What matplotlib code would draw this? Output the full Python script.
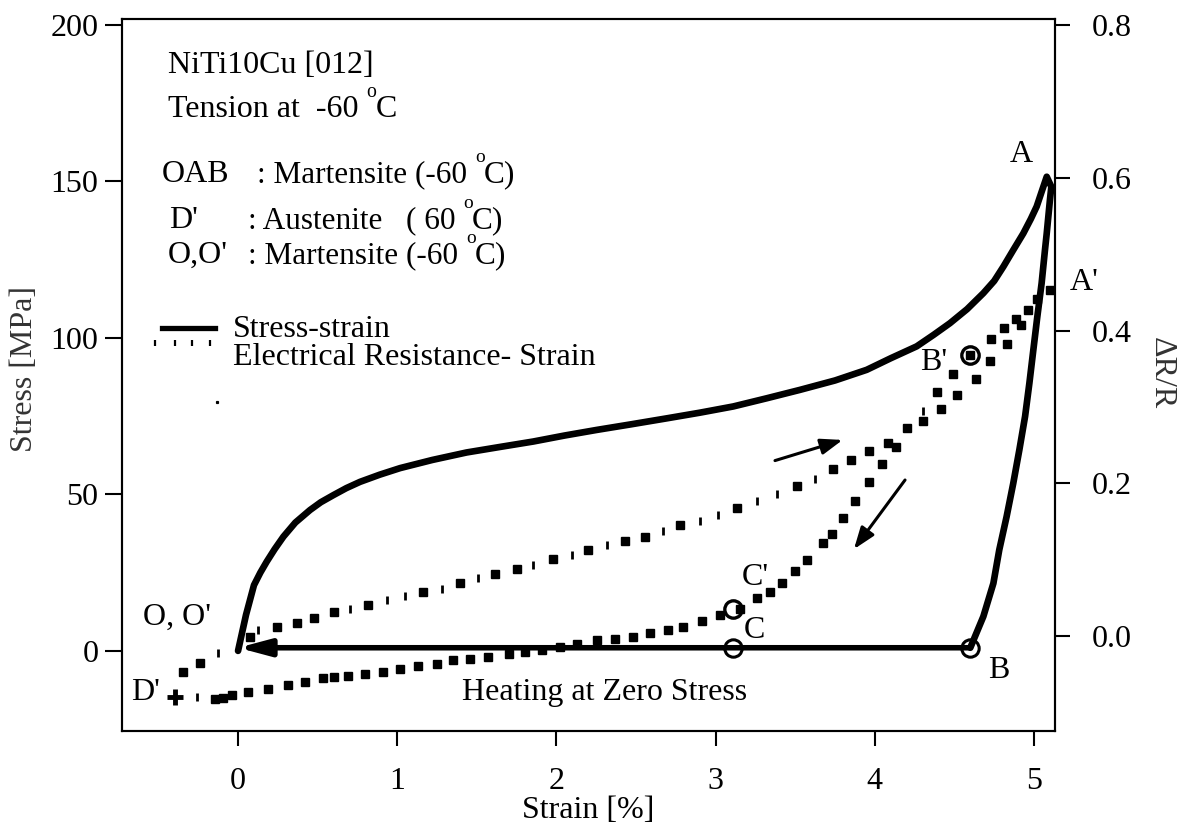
import matplotlib
matplotlib.use("Agg")
import matplotlib.pyplot as plt
from matplotlib.lines import Line2D

plt.rcParams['font.family'] = ['Liberation Serif', 'DejaVu Serif']
plt.rcParams['mathtext.fontset'] = 'custom'
plt.rcParams['mathtext.rm'] = 'Liberation Serif'
plt.rcParams['mathtext.it'] = 'Liberation Serif:italic'

# ---------------- data ----------------
# stress-strain: loading O -> A, then unloading A -> B
load_strain = [0.0, 0.05, 0.1, 0.14, 0.18, 0.23, 0.285, 0.36, 0.452, 0.52, 0.6, 0.68,
               0.766, 0.89, 1.018, 1.22, 1.436, 1.65, 1.855, 2.05, 2.253, 2.47, 2.693,
               2.9, 3.111, 3.32, 3.53, 3.75, 3.949, 4.1, 4.263, 4.37, 4.472, 4.58, 4.682,
               4.75, 4.808, 4.87, 4.933, 4.98, 5.017, 5.05, 5.08]
load_stress = [0.0, 11.5, 21.0, 25.0, 28.5, 32.5, 36.5, 41.0, 45.0, 47.5, 49.8, 52.0,
               54.0, 56.3, 58.4, 61.0, 63.4, 65.2, 66.9, 68.8, 70.6, 72.4, 74.3,
               76.1, 78.1, 80.7, 83.4, 86.4, 89.8, 93.5, 97.3, 101.0, 104.7, 109.2, 114.3,
               118.2, 122.8, 128.1, 133.4, 138.0, 142.0, 147.0, 151.5]
unload_strain = [5.109, 5.10, 5.08, 5.069, 5.048, 5.021, 4.996, 4.971, 4.944, 4.908,
                 4.87, 4.828, 4.782, 4.745, 4.682, 4.60]
unload_stress = [148.3, 144.0, 133.4, 128.1, 117.5, 106.8, 96.2, 85.5, 74.9, 64.2,
                 53.6, 42.9, 32.3, 21.6, 11.0, 1.0]

# heating at zero stress: B -> O
heat_strain = [4.60, 0.0]
heat_stress = [1.0, 1.0]

# marked states
circ_strain = [3.11, 4.60]
circ_stress = [1.0, 1.0]
circ_er_strain = [3.11, 4.60]
circ_er = [0.035, 0.368]
dprime_strain = [-0.396]
dprime_er = [-0.080]
stray_strain = [-0.13]
stray_stress = [79.6]

# electrical resistance (dR/R) vs strain, O' -> A'
er_load_strain = [0.075, 0.243, 0.369, 0.474, 0.600, 0.818, 1.164, 1.394, 1.614, 1.75,
                  1.98, 2.2, 2.43, 2.557, 2.776, 3.132, 3.509, 3.74, 3.85, 3.966,
                  4.085, 4.2, 4.389, 4.493, 4.60, 4.728, 4.812, 4.887, 4.964, 5.1]
er_load = [-0.001, 0.012, 0.017, 0.024, 0.031, 0.040, 0.058, 0.070, 0.081, 0.088,
           0.101, 0.112, 0.124, 0.130, 0.145, 0.168, 0.197, 0.219, 0.230, 0.242,
           0.253, 0.272, 0.319, 0.343, 0.368, 0.389, 0.403, 0.415, 0.427, 0.453]
er_load_faint_strain = [0.128, 0.704, 0.934, 1.049, 1.279, 1.51, 1.855, 2.096, 2.316,
                        2.672, 2.902, 3.017, 3.258, 3.384, 3.624, 4.30]
er_load_faint = [0.008, 0.035, 0.047, 0.052, 0.062, 0.076, 0.093, 0.106, 0.119,
                 0.138, 0.151, 0.158, 0.177, 0.186, 0.205, 0.295]

# A' -> B' -> C' -> D'
er_back_strain = [5.017, 4.916, 4.828, 4.724, 4.636, 4.518, 4.414, 4.30, 4.133, 4.043,
                  3.964, 3.876, 3.803, 3.73, 3.677, 3.572, 3.499, 3.415, 3.342, 3.258,
                  3.153, 3.028, 2.913, 2.797, 2.703, 2.588, 2.483, 2.368, 2.253, 2.127,
                  2.02, 1.907, 1.803, 1.7, 1.572, 1.457, 1.353, 1.248, 1.133, 1.018,
                  0.913, 0.798, 0.693, 0.60, 0.536, 0.421, 0.316, 0.19, 0.065, -0.04,
                  -0.092, -0.144]
er_back = [0.441, 0.407, 0.382, 0.360, 0.337, 0.316, 0.297, 0.282, 0.247, 0.225,
           0.201, 0.177, 0.155, 0.134, 0.122, 0.099, 0.085, 0.070, 0.058, 0.050,
           0.036, 0.027, 0.019, 0.012, 0.008, 0.004, -0.001, -0.004, -0.005, -0.010,
           -0.014, -0.018, -0.021, -0.024, -0.027, -0.030, -0.032, -0.037, -0.039, -0.043,
           -0.047, -0.050, -0.052, -0.054, -0.055, -0.060, -0.064, -0.069, -0.073, -0.077,
           -0.081, -0.082]
er_back_faint_strain = [-0.26]
er_back_faint = [-0.080]

# D' -> O' (cooling)
er_cool_strain = [-0.344, -0.239]
er_cool = [-0.047, -0.035]
er_cool_faint_strain = [-0.124]
er_cool_faint = [-0.022]

x_ticks = [0, 1, 2, 3, 4, 5]
stress_ticks = [0, 50, 100, 150, 200]
er_ticks = [0.0, 0.2, 0.4, 0.6, 0.8]

# ---------------- figure ----------------
W, H = 1191, 830
fig = plt.figure(figsize=(W / 100, H / 100), dpi=100)
renderer = fig.canvas.get_renderer()


def fx(px):
    return px / W


def fy(py):
    return 1 - py / H


ax = fig.add_axes([fx(122), fy(731), fx(1055) - fx(122), fy(19) - fy(731)])
ax2 = ax.twinx()

ax.set_xlim(-0.729, 5.132)
ax.set_ylim(-25.6, 201.9)
ax2.set_ylim(-0.1244, 0.8079)

FS = 23
for a in (ax, ax2):
    for s in a.spines.values():
        s.set_linewidth(1.5)
        s.set_color('k')
ax.set_xticks(x_ticks)
ax.set_xticklabels([str(v) for v in x_ticks])
ax.set_yticks(stress_ticks)
ax.set_yticklabels([str(v) for v in stress_ticks])
ax2.set_yticks(er_ticks)
ax2.set_yticklabels([f"{v:.1f}" for v in er_ticks])

ax.tick_params(axis='x', direction='out', length=11, width=1.5, labelsize=FS, pad=15)
ax.tick_params(axis='y', direction='out', length=12, width=1.5, labelsize=FS, pad=5)
ax2.tick_params(axis='y', direction='out', length=11, width=1.5, labelsize=FS, pad=15.5)

# stress-strain curve
ax.plot(load_strain + unload_strain, load_stress + unload_stress, color='k', lw=4.8,
        solid_joinstyle='round', solid_capstyle='round', zorder=3)
ax.annotate('', xy=(heat_strain[1], heat_stress[1]), xytext=(heat_strain[0], heat_stress[0]),
            arrowprops=dict(arrowstyle='-|>,head_length=0.75,head_width=0.2', lw=4,
                            color='k', shrinkA=0, shrinkB=0, mutation_scale=25), zorder=3)
ax.plot(circ_strain, circ_stress, ls='none', marker='o', ms=12.5, mfc='none', mec='k',
        mew=2.2, zorder=4)
ax.plot(stray_strain, stray_stress, ls='none', marker='s', ms=1.3, color='k')

# electrical resistance curve
for xs, ys in ((er_load_strain, er_load), (er_back_strain, er_back), (er_cool_strain, er_cool)):
    ax2.plot(xs, ys, ls='none', marker='s', ms=5.8, color='k')
for xs, ys in ((er_load_faint_strain, er_load_faint), (er_back_faint_strain, er_back_faint),
               (er_cool_faint_strain, er_cool_faint)):
    ax2.plot(xs, ys, ls='none', marker='|', ms=6, mew=2, color='k')
ax2.plot(circ_er_strain, circ_er, ls='none', marker='o', ms=12.5, mfc='none', mec='k', mew=2.4)
ax2.plot(dprime_strain, dprime_er, ls='none', marker='+', ms=12, mew=3.5, color='k')

# direction arrows
arrow_kw = dict(arrowstyle='-|>,head_length=0.55,head_width=0.2', lw=2.2, color='k',
                shrinkA=0, shrinkB=0, mutation_scale=24)
ax.annotate('', xy=(3.798, 67.4), xytext=(3.373, 60.8), arrowprops=arrow_kw)
ax.annotate('', xy=(3.869, 32.5), xytext=(4.19, 54.6), arrowprops=arrow_kw)


def ptext(x, y, s, **kw):
    kw.setdefault('fontsize', FS)
    kw.setdefault('va', 'baseline')
    return fig.text(fx(x), fy(y), s, **kw)


def deg_text(x, y, before, after, fs):
    """Text ending in a temperature with a raised 'o' before the C."""
    em = fs * 100 / 72
    t = ptext(x, y, before, fontsize=fs)
    e = t.get_window_extent(renderer)
    xo = e.x1 + 0.25 * em
    to = fig.text(xo / W, (H - y + 0.63 * em) / H, 'o', fontsize=fs * 0.62, va='baseline')
    eo = to.get_window_extent(renderer)
    fig.text((eo.x1 - 1) / W, fy(y), 'C' + after, fontsize=fs, va='baseline')


# header notes
ptext(168, 73, 'NiTi10Cu [012]')
deg_text(168, 117, 'Tension at  -60', '', FS)
ptext(162, 182, 'OAB')
deg_text(257, 182, ': Martensite (-60', ')', 22.5)
ptext(169, 228, "D'")
deg_text(248, 228, ': Austenite   ( 60', ')', 22.5)
ptext(168, 263, "O,O'")
deg_text(248, 263, ': Martensite (-60', ')', 22.5)

# legend
fig.add_artist(Line2D([fx(162), fx(215)], [fy(328), fy(328)], lw=3.8, color='k',
                      transform=fig.transFigure))
fig.add_artist(Line2D([fx(155), fx(175), fx(192), fx(210)], [fy(343)] * 4, ls='none',
                      marker='|', ms=5, mew=1.6, color='k', transform=fig.transFigure))
ptext(233, 337, 'Stress-strain')
ptext(233, 365, 'Electrical Resistance- Strain')

# point labels
ptext(1010, 162, 'A')
ptext(1070, 290, "A'")
ptext(920, 370, "B'")
ptext(742, 585, "C'")
ptext(744, 638, 'C')
ptext(988, 678, 'B')
ptext(143, 625, "O, O'")
ptext(131, 700, "D'")
ptext(462, 700, 'Heating at Zero Stress')

# axis titles
ptext(588, 818, 'Strain [%]', ha='center')
fig.text(fx(25), fy(369), 'Stress [MPa]', rotation=90, ha='center', va='center',
         fontsize=FS, color='#333333')
fig.text(fx(1161), fy(373), r'ΔR/R', rotation=270, ha='center', va='center',
         fontsize=FS, color='#333333')

fig.savefig('out.png', dpi=100)
